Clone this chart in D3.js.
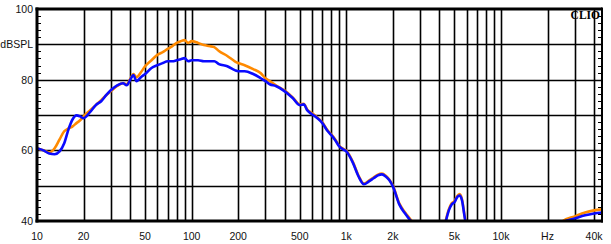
<!DOCTYPE html>
<html>
<head>
<meta charset="utf-8">
<script src="https://cdn.jsdelivr.net/npm/d3@7"></script>
<style>
	body { margin:0; background:#fff; }
	text { font-family: Arial, "Liberation Sans", sans-serif; }
</style>
</head>
<body>
<div id="chart"></div>
<script>
//frequencies (Hz) shared by both curves
var freqs = [10, 11, 12, 13, 14, 15, 16, 17, 18, 19, 20, 22, 24, 26, 28, 30, 33, 36, 38, 40, 42, 44, 47, 50, 55, 60, 65, 70, 75, 80, 85, 90, 95, 100,
	110, 120, 130, 140, 150, 170, 190, 200, 220, 250, 280, 300, 320, 350, 400, 450, 500, 530, 560, 600, 650, 700, 750, 800, 850, 900, 950, 1000,
	1100, 1200, 1300, 1400, 1500, 1600, 1700, 1800, 1900, 2000, 2200, 2400, 2600, 2800, 3200, 4000, 4200, 4400, 4600, 4800, 5000, 5200, 5400,
	5600, 5800, 6000, 7000, 20000, 23000, 25000, 30000, 35000, 40000, 45000];

//blue curve (dBSPL)
var blueDb = [60.6, 60.0, 59.1, 58.9, 59.7, 62.0, 66.0, 68.8, 69.9, 69.6, 69.1, 70.8, 72.8, 73.9, 75.6, 77.0, 78.4, 79.0, 78.4, 79.9, 81.3, 79.6, 80.7, 81.6, 83.3, 84.1, 84.7, 85.2, 85.2, 85.5, 85.8, 86.1, 85.2, 85.5,
	85.5, 85.2, 85.2, 85.2, 84.4, 83.8, 82.7, 82.4, 82.4, 81.6, 80.4, 79.6, 78.7, 78.2, 76.7, 74.8, 72.8, 73.0, 71.3, 70.2, 69.1, 67.7, 65.7, 64.3, 62.8, 61.1, 60.3, 59.7,
	56.6, 52.6, 50.4, 51.2, 52.1, 52.9, 53.2, 52.6, 51.5, 49.8, 44.7, 42.1, 40.1, 37.9, 30, 32, 36, 39.9, 43.0, 44.7, 45.3, 46.7, 47.2,
	45.8, 41.6, 37.9, 30, 30, 36, 39.6, 40.7, 41.6, 42.1, 42.4];

//orange curve (dBSPL)
var orangeDb = [60.6, 60.0, 59.4, 60.6, 63.1, 65.4, 66.2, 66.8, 67.7, 68.5, 69.6, 71.3, 72.8, 74.2, 75.6, 76.7, 78.2, 79.0, 78.7, 80.1, 81.6, 80.7, 82.1, 83.8, 85.5, 87.0, 87.8, 88.7, 89.5, 90.4, 90.9, 91.2, 90.4, 90.9,
	90.4, 89.8, 89.5, 89.2, 88.1, 86.7, 85.2, 84.7, 84.1, 83.0, 81.8, 80.4, 79.6, 78.4, 76.9, 75.0, 73.0, 73.2, 71.5, 70.5, 69.3, 67.9, 65.9, 64.5, 63.0, 61.3, 60.5, 59.9,
	56.8, 52.8, 50.6, 51.4, 52.3, 53.1, 53.4, 52.8, 51.7, 50.0, 45.0, 42.4, 40.4, 38.1, 30, 32, 36, 40.2, 43.3, 45.0, 45.6, 47.0, 47.6,
	46.1, 41.9, 38.1, 30, 30, 36.5, 39.9, 41.3, 42.4, 43.0, 43.3];

//axis labels
var yTickVals = [100, 90, 80, 60, 40];
var yTickLabels = ["100", "dBSPL", "80", "60", "40"];
var xTickVals = [10, 20, 50, 100, 200, 500, 1000, 2000, 5000, 10000, 20000, 40000];
var xTickLabels = ["10", "20", "50", "100", "200", "500", "1k", "2k", "5k", "10k", "Hz", "40k"];

//layout
const W = 611, H = 244;
const pLeft = 37, pRight = 602, pTop = 9, pBottom = 221;

var svg = d3.select("#chart")
	.append("svg")
	.attr("width", W)
	.attr("height", H);

//scales
var xScale = d3.scaleLog().domain([10, 45000]).range([pLeft, pRight]);
var yScale = d3.scaleLinear().domain([40, 100]).range([pBottom, pTop]);

//vertical grid lines at 1..9 per decade
var xGrid = [];
[10, 100, 1000, 10000].forEach(function(d){
	for (var k = 1; k <= 9; k++){
		var f = d * k;
		if (f > 10 && f <= 40000) xGrid.push(f);
	}
});

svg.append("g")
	.selectAll("line")
	.data(xGrid)
	.enter().append("line")
	.attr("x1", function(d){ return Math.round(xScale(d)) + 0.5; })
	.attr("x2", function(d){ return Math.round(xScale(d)) + 0.5; })
	.attr("y1", pTop)
	.attr("y2", pBottom)
	.attr("stroke", "#000")
	.attr("stroke-width", 1.6);

//horizontal grid lines
svg.append("g")
	.selectAll("line")
	.data([50, 60, 70, 80, 90])
	.enter().append("line")
	.attr("x1", pLeft)
	.attr("x2", pRight)
	.attr("y1", function(d){ return Math.round(yScale(d)) + 0.5; })
	.attr("y2", function(d){ return Math.round(yScale(d)) + 0.5; })
	.attr("stroke", "#000")
	.attr("stroke-width", 1.6);

//minor ticks every 2 dB on both sides
var minor = d3.range(42, 100, 2).filter(function(d){ return d % 10 != 0; });
svg.append("g")
	.selectAll("line")
	.data(minor)
	.enter().append("line")
	.attr("x1", pLeft)
	.attr("x2", pLeft + 4)
	.attr("y1", function(d){ return Math.round(yScale(d)) + 0.5; })
	.attr("y2", function(d){ return Math.round(yScale(d)) + 0.5; })
	.attr("stroke", "#000")
	.attr("stroke-width", 1);
svg.append("g")
	.selectAll("line")
	.data(minor)
	.enter().append("line")
	.attr("x1", pRight - 4)
	.attr("x2", pRight)
	.attr("y1", function(d){ return Math.round(yScale(d)) + 0.5; })
	.attr("y2", function(d){ return Math.round(yScale(d)) + 0.5; })
	.attr("stroke", "#000")
	.attr("stroke-width", 1);

//clip curves to plot area
svg.append("clipPath")
	.attr("id", "plot")
	.append("rect")
	.attr("x", pLeft)
	.attr("y", pTop)
	.attr("width", pRight - pLeft)
	.attr("height", pBottom - pTop);

var line = d3.line()
	.x(function(d, i){ return xScale(freqs[i]); })
	.y(function(d){ return yScale(d); })
	.curve(d3.curveMonotoneX);

svg.append("path")
	.datum(orangeDb)
	.attr("clip-path", "url(#plot)")
	.attr("fill", "none")
	.attr("stroke", "#ff8a00")
	.attr("stroke-width", 2.6)
	.attr("d", line);

svg.append("path")
	.datum(blueDb)
	.attr("clip-path", "url(#plot)")
	.attr("fill", "none")
	.attr("stroke", "#0a0aff")
	.attr("stroke-width", 2.6)
	.attr("d", line);

//frame
svg.append("line").attr("x1", pLeft - 1.5).attr("x2", pRight).attr("y1", pTop).attr("y2", pTop)
	.attr("stroke", "#000").attr("stroke-width", 3);
svg.append("line").attr("x1", pLeft - 1.5).attr("x2", pRight + 1).attr("y1", pBottom).attr("y2", pBottom)
	.attr("stroke", "#000").attr("stroke-width", 3);
svg.append("line").attr("x1", pLeft).attr("x2", pLeft).attr("y1", pTop - 1.5).attr("y2", pBottom + 1.5)
	.attr("stroke", "#000").attr("stroke-width", 3);
svg.append("line").attr("x1", pRight).attr("x2", pRight).attr("y1", pTop - 1.5).attr("y2", pBottom + 1.5)
	.attr("stroke", "#000").attr("stroke-width", 2);

//y labels
svg.append("g")
	.selectAll("text")
	.data(yTickVals)
	.enter().append("text")
	.attr("x", 33)
	.attr("y", function(d){ return yScale(d) + 4; })
	.attr("text-anchor", "end")
	.attr("font-size", 10.5)
	.attr("fill", "#111")
	.text(function(d, i){ return yTickLabels[i]; });

//x labels
svg.append("g")
	.selectAll("text")
	.data(xTickVals)
	.enter().append("text")
	.attr("x", function(d){ return xScale(d); })
	.attr("y", 239.5)
	.attr("text-anchor", "middle")
	.attr("font-size", 10.5)
	.attr("fill", "#111")
	.text(function(d, i){ return xTickLabels[i]; });

//CLIO mark
svg.append("text")
	.attr("x", 600)
	.attr("y", 19)
	.attr("text-anchor", "end")
	.style("font-family", "'Liberation Serif', 'DejaVu Serif', serif")
	.style("font-weight", "bold")
	.attr("font-size", 11.5)
	.text("CLIO");
</script>
</body>
</html>
